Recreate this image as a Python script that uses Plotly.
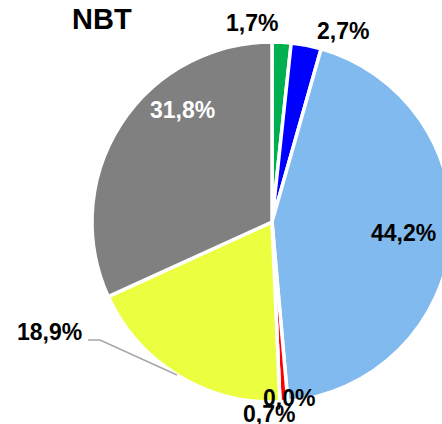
import plotly.graph_objects as go

# Data
categories = ["A", "B", "C", "D", "E", "F", "G"]
values = [1.7, 2.7, 44.2, 0.7, 0.0, 18.9, 31.8]
label_texts = ["1,7%", "2,7%", "44,2%", "0,7%", "0,0%", "18,9%", "31,8%"]
colors = ["#00B050", "#0000FF", "#80BAEE", "#FF0000", "#FFC000", "#EBFF40", "#808080"]

W, H = 470, 424   # figure slightly wider than the window so the pie can be clipped on the right
cx, cy, R = 272, 222, 180

fig = go.Figure()
fig.add_trace(go.Pie(
    labels=categories,
    values=values,
    sort=False,
    direction="clockwise",
    rotation=0,
    marker=dict(colors=colors, line=dict(color="white", width=3.5)),
    textinfo="none",
    hoverinfo="none",
    showlegend=False,
    domain=dict(x=[(cx - R) / W, (cx + R) / W], y=[1 - (cy + R) / H, 1 - (cy - R) / H]),
))

# label positions in pixels (x, y from top)
label_pos = {
    "1,7%": (252, 23, "black"),
    "2,7%": (343, 31, "black"),
    "44,2%": (403, 233, "black"),
    "0,7%": (269, 414, "black"),
    "0,0%": (289, 398, "black"),
    "18,9%": (49, 332, "black"),
    "31,8%": (182, 110, "white"),
}
for t in label_texts:
    x, y, c = label_pos[t]
    fig.add_annotation(x=x, y=y, xref="x", yref="y", text=f"<b>{t}</b>",
                       showarrow=False, font=dict(family="Liberation Sans, Arial", size=23, color=c))

fig.add_annotation(x=102, y=19, xref="x", yref="y", text="<b>NBT</b>",
                   showarrow=False, font=dict(family="Liberation Sans, Arial", size=29, color="black"))

fig.add_shape(type="path", path="M 88 340 L 100 340 L 177 375", xref="x", yref="y",
              line=dict(color="#A6A6A6", width=1.5))

fig.update_xaxes(range=[0, W], visible=False, fixedrange=True)
fig.update_yaxes(range=[H, 0], visible=False, fixedrange=True)
fig.update_layout(width=W, height=H, margin=dict(l=0, r=0, t=0, b=0),
                  paper_bgcolor="white", plot_bgcolor="rgba(0,0,0,0)")
fig.write_html(
    "out.html",
    config={"displayModeBar": False},
    post_script="document.body.style.margin='0';document.body.style.overflow='hidden';"
                "document.documentElement.style.overflow='hidden';",
)
